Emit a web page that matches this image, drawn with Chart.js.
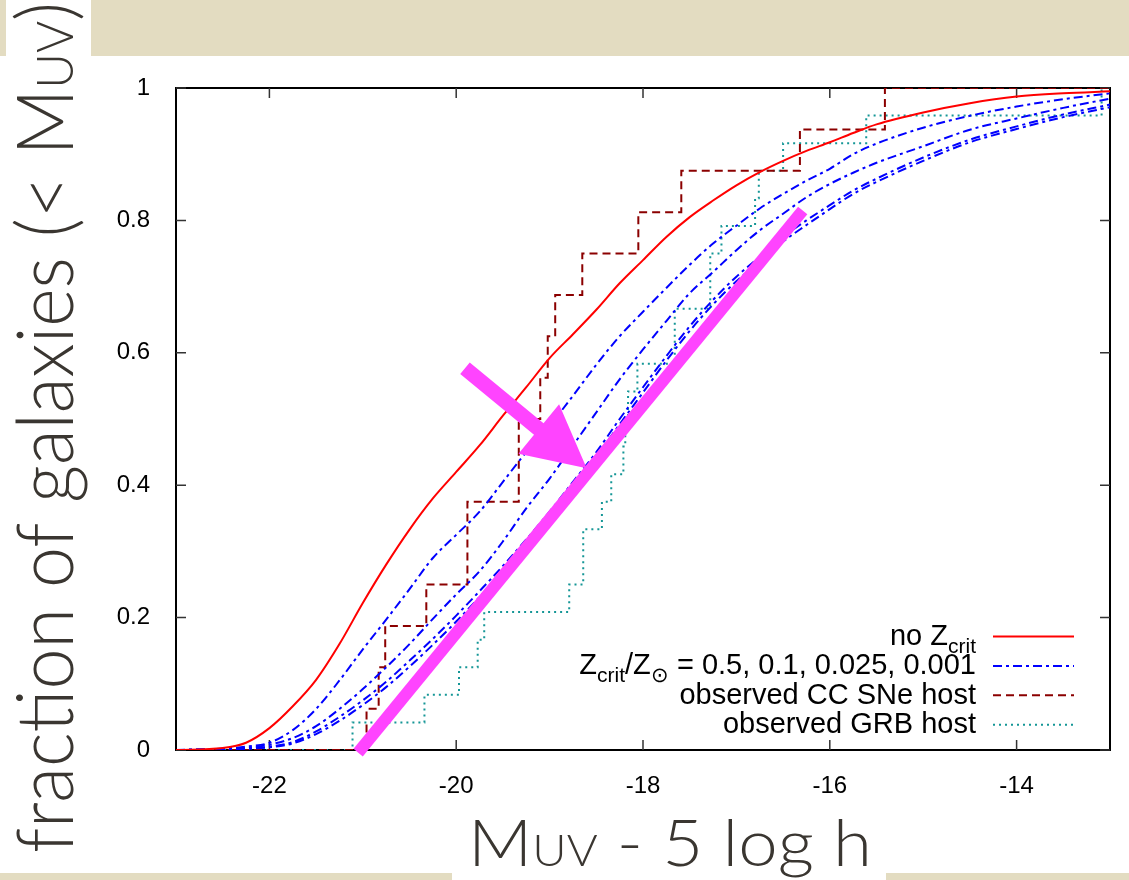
<!DOCTYPE html>
<html>
<head>
<meta charset="utf-8">
<script src="https://cdn.jsdelivr.net/npm/chart.js@4.4.0/dist/chart.umd.min.js"></script>
<style>
  html, body { margin: 0; padding: 0; background: #fff; }
  canvas { display: block; }
</style>
</head>
<body>
<canvas id="muv_cdf_chart" width="1129" height="880"></canvas>
<script>
// ---- data ----------------------------------------------------------------
// magnitude grid of the model curves (M_UV - 5 log h)
var mag = [-23, -22.5, -22.25, -22, -21.75, -21.5, -21.25, -21, -20.75, -20.5, -20.25, -20,
  -19.75, -19.5, -19.25, -19, -18.75, -18.5, -18.25, -18, -17.75, -17.5, -17.25, -17,
  -16.75, -16.5, -16.25, -16, -15.75, -15.5, -15, -14.5, -14, -13.5, -13];

// no Z_crit
var noZcrit = [0, 0.003, 0.011, 0.033, 0.066, 0.106, 0.16, 0.222, 0.28, 0.333, 0.38, 0.42,
  0.46, 0.505, 0.548, 0.592, 0.628, 0.665, 0.705, 0.74, 0.775, 0.805, 0.83, 0.853,
  0.873, 0.89, 0.905, 0.918, 0.932, 0.945, 0.963, 0.977, 0.987, 0.992, 0.995];

// Z_crit / Z_sun = 0.5, 0.1, 0.025, 0.001
var zcrit050 = [0, 0.002, 0.005, 0.011, 0.03, 0.062, 0.105, 0.152, 0.197, 0.243, 0.29, 0.325,
  0.36, 0.405, 0.45, 0.49, 0.535, 0.582, 0.625, 0.662, 0.698, 0.733, 0.765, 0.792,
  0.818, 0.84, 0.86, 0.878, 0.9, 0.916, 0.94, 0.958, 0.972, 0.983, 0.992];
var zcrit010 = [0, 0.001, 0.003, 0.008, 0.018, 0.036, 0.062, 0.092, 0.125, 0.16, 0.198, 0.235,
  0.27, 0.315, 0.365, 0.41, 0.46, 0.51, 0.56, 0.605, 0.648, 0.69, 0.722, 0.755,
  0.785, 0.81, 0.835, 0.855, 0.872, 0.887, 0.912, 0.937, 0.954, 0.97, 0.984];
var zcrit0025 = [0, 0.001, 0.002, 0.005, 0.012, 0.028, 0.05, 0.075, 0.103, 0.135, 0.168, 0.203,
  0.24, 0.278, 0.318, 0.36, 0.405, 0.45, 0.5, 0.548, 0.595, 0.64, 0.68, 0.715,
  0.745, 0.775, 0.8, 0.823, 0.845, 0.863, 0.895, 0.922, 0.942, 0.96, 0.975];
var zcrit0001 = [0, 0.001, 0.002, 0.004, 0.01, 0.024, 0.044, 0.068, 0.095, 0.126, 0.159, 0.194,
  0.231, 0.27, 0.31, 0.352, 0.397, 0.443, 0.492, 0.54, 0.588, 0.633, 0.673, 0.708,
  0.738, 0.768, 0.793, 0.817, 0.84, 0.858, 0.89, 0.918, 0.938, 0.956, 0.971];

// observed CC SNe hosts (cumulative steps)
var ccMag = [-23, -20.96, -20.83, -20.76, -20.32, -19.88, -19.33, -19.10, -19.02, -18.94,
  -18.65, -18.05, -17.59, -16.32, -15.41, -13];
var ccFrac = [0, 0.0625, 0.125, 0.1875, 0.25, 0.375, 0.5, 0.5625, 0.625, 0.6875,
  0.75, 0.8125, 0.875, 0.9375, 1, 1];

// observed GRB hosts (cumulative steps)
var grbMag = [-23, -21.11, -20.34, -19.97, -19.77, -19.70, -18.79, -18.64, -18.44, -18.34,
  -18.21, -18.19, -18.16, -18.06, -17.66, -17.28, -17.16, -16.80, -16.76, -16.50,
  -15.61, -13.09, -13];
var grbFrac = [0, 0.0417, 0.0833, 0.125, 0.1667, 0.2083, 0.25, 0.3333, 0.375, 0.4167,
  0.4583, 0.5, 0.5417, 0.5833, 0.6667, 0.75, 0.7917, 0.8333, 0.875, 0.9167,
  0.9583, 1, 1];

// hand-drawn magenta annotation (data coordinates)
var markLineX = [-21.05, -16.29];
var markLineY = [-0.004, 0.815];
var arrowX = [-19.906, -18.603];   // tail, tip
var arrowY = [0.5766, 0.4255];

// ticks
var xTickValues = [-22, -20, -18, -16, -14];
var xTickLabels = ['-22', '-20', '-18', '-16', '-14'];
var yTickValues = [0, 0.2, 0.4, 0.6, 0.8, 1];
var yTickLabels = ['0', '0.2', '0.4', '0.6', '0.8', '1'];

// legend rows: [text, subscript?]
var legendRows = [
  [['no Z', 0], ['crit', 1]],
  [['Z', 0], ['crit', 1], ['/Z', 0], ['\u2299', 1], [' = 0.5, 0.1, 0.025, 0.001', 0]],
  [['observed CC SNe host', 0]],
  [['observed GRB host', 0]]
];
//---------------------------------------------------------------------------

var RED = '#ff0000', BLUE = '#0000ff', DARKRED = '#8b0000', TEAL = '#149696';
var MAGENTA = 'rgb(255, 68, 255)';
var BEIGE = '#e3dcc1';
var LABEL_FONT = '"Liberation Sans", Arial, Helvetica, sans-serif';
var TITLE_FONT = 'Lato, "Open Sans", "Liberation Sans", sans-serif';
var TITLE_COLOR = '#3a3631';

function pts(xs, ys) {
  var out = [];
  for (var i = 0; i < xs.length; i++) out.push({x: xs[i], y: ys[i]});
  return out;
}

function curve(label, ys, color, dash) {
  return {
    label: label,
    data: pts(mag, ys),
    borderColor: color,
    borderWidth: 2,
    borderDash: dash,
    pointRadius: 0,
    fill: false,
    cubicInterpolationMode: 'monotone'
  };
}

var dashDot = [9, 4, 3, 4];

// draws text pieces (normal / subscript) ending at xRight
function richText(ctx, parts, xRight, baseline, size, subSize, subDrop) {
  var widths = [], total = 0;
  parts.forEach(function(p) {
    ctx.font = (p[1] ? subSize : size) + 'px ' + LABEL_FONT;
    var w = ctx.measureText(p[0]).width;
    widths.push(w); total += w;
  });
  var x = xRight - total;
  parts.forEach(function(p, i) {
    ctx.font = (p[1] ? subSize : size) + 'px ' + LABEL_FONT;
    ctx.fillText(p[0], x, baseline + (p[1] ? subDrop : 0));
    x += widths[i];
  });
}

// title text squeezed to a given length; parts = [text, small?]
function squeezedTitle(ctx, parts, size, smallSize, length) {
  var total = 0, widths = [];
  parts.forEach(function(p) {
    ctx.font = '300 ' + (p[1] ? smallSize : size) + 'px ' + TITLE_FONT;
    var w = ctx.measureText(p[0]).width;
    widths.push(w); total += w;
  });
  ctx.scale(length / total, 1);
  var x = 0;
  parts.forEach(function(p, i) {
    ctx.font = '300 ' + (p[1] ? smallSize : size) + 'px ' + TITLE_FONT;
    ctx.fillText(p[0], x, 0);
    x += widths[i];
  });
}

var figurePlugin = {
  id: 'figure',
  beforeDraw: function(chart) {
    var ctx = chart.ctx;
    ctx.save();
    ctx.fillStyle = '#ffffff';
    ctx.fillRect(0, 0, chart.width, chart.height);
    // slide background peeking round the pasted plot
    ctx.fillStyle = BEIGE;
    ctx.fillRect(91, 0, chart.width - 91, 56);
    ctx.fillRect(0, 0, 6, 56);
    ctx.fillRect(0, 873, 452, 7);
    ctx.fillRect(886, 873, chart.width - 886, 7);
    ctx.restore();
  },
  beforeDatasetsDraw: function(chart) {
    var ctx = chart.ctx, a = chart.chartArea;
    var xs = chart.scales.x, ys = chart.scales.y;
    ctx.save();
    ctx.strokeStyle = '#000';
    ctx.lineWidth = 2;
    ctx.strokeRect(a.left, a.top, a.right - a.left, a.bottom - a.top);
    // inward ticks on all four sides
    ctx.strokeStyle = '#333';
    ctx.lineWidth = 1.5;
    ctx.beginPath();
    xTickValues.forEach(function(v) {
      var px = xs.getPixelForValue(v);
      ctx.moveTo(px, a.bottom); ctx.lineTo(px, a.bottom - 10);
      ctx.moveTo(px, a.top); ctx.lineTo(px, a.top + 10);
    });
    yTickValues.forEach(function(v) {
      var py = ys.getPixelForValue(v);
      ctx.moveTo(a.left, py); ctx.lineTo(a.left + 10, py);
      ctx.moveTo(a.right, py); ctx.lineTo(a.right - 10, py);
    });
    ctx.stroke();
    ctx.restore();
  },
  afterDatasetsDraw: function(chart) {
    var ctx = chart.ctx;
    var xs = chart.scales.x, ys = chart.scales.y;
    // magenta arrow
    var x0 = xs.getPixelForValue(arrowX[0]), y0 = ys.getPixelForValue(arrowY[0]);
    var x1 = xs.getPixelForValue(arrowX[1]), y1 = ys.getPixelForValue(arrowY[1]);
    var len = Math.hypot(x1 - x0, y1 - y0);
    var ux = (x1 - x0) / len, uy = (y1 - y0) / len;
    var nx = -uy, ny = ux;
    var head = 62, hw = 32, sw = 7.5;
    var bx = x1 - ux * head, by = y1 - uy * head;
    ctx.save();
    ctx.fillStyle = MAGENTA;
    ctx.beginPath();
    ctx.moveTo(x0 + nx * sw, y0 + ny * sw);
    ctx.lineTo(bx + nx * sw, by + ny * sw);
    ctx.lineTo(bx + nx * hw, by + ny * hw);
    ctx.lineTo(x1, y1);
    ctx.lineTo(bx - nx * hw, by - ny * hw);
    ctx.lineTo(bx - nx * sw, by - ny * sw);
    ctx.lineTo(x0 - nx * sw, y0 - ny * sw);
    ctx.closePath();
    ctx.fill();
    ctx.restore();
  },
  afterDraw: function(chart) {
    var ctx = chart.ctx;
    ctx.save();
    // legend
    var styles = [
      {color: RED, dash: []},
      {color: BLUE, dash: dashDot},
      {color: DARKRED, dash: [8, 5]},
      {color: TEAL, dash: [2, 4]}
    ];
    ctx.fillStyle = '#000';
    ctx.textBaseline = 'alphabetic';
    legendRows.forEach(function(row, i) {
      var ly = 636.5 + i * 29.4;
      richText(ctx, row, 976, ly + 8.5, 29, 21, 8);
      ctx.beginPath();
      ctx.setLineDash(styles[i].dash);
      ctx.strokeStyle = styles[i].color;
      ctx.lineWidth = 2;
      ctx.moveTo(993, ly); ctx.lineTo(1074, ly);
      ctx.stroke();
    });
    ctx.setLineDash([]);
    // axis titles
    ctx.fillStyle = TITLE_COLOR;
    ctx.save();
    ctx.translate(468, 866);
    squeezedTitle(ctx, [['M', 0], ['UV', 1], [' - 5 log h', 0]], 66, 44, 404);
    ctx.restore();
    ctx.save();
    ctx.translate(73, 853);
    ctx.rotate(-Math.PI / 2);
    squeezedTitle(ctx, [['fraction of galaxies (< M', 0], ['UV', 1], [')', 0]], 78, 52, 851);
    ctx.restore();
    ctx.restore();
  }
};

var context = document.getElementById('muv_cdf_chart').getContext('2d');
var muv_cdf_chart = new Chart(context, {
  type: 'line',
  data: {
    datasets: [
      {
        label: 'annotation',
        data: pts(markLineX, markLineY),
        borderColor: MAGENTA,
        borderWidth: 12,
        borderCapStyle: 'butt',
        pointRadius: 0,
        fill: false,
        clip: false,
        order: -1
      },
      curve('no Zcrit', noZcrit, RED, []),
      curve('Zcrit/Zsun = 0.5', zcrit050, BLUE, dashDot),
      curve('Zcrit/Zsun = 0.1', zcrit010, BLUE, dashDot),
      curve('Zcrit/Zsun = 0.025', zcrit0025, BLUE, dashDot),
      curve('Zcrit/Zsun = 0.001', zcrit0001, BLUE, dashDot),
      {
        label: 'observed CC SNe host',
        data: pts(ccMag, ccFrac),
        stepped: 'before',
        borderColor: DARKRED,
        borderWidth: 2,
        borderDash: [8, 5],
        pointRadius: 0,
        fill: false
      },
      {
        label: 'observed GRB host',
        data: pts(grbMag, grbFrac),
        stepped: 'before',
        borderColor: TEAL,
        borderWidth: 2,
        borderDash: [2, 4],
        pointRadius: 0,
        fill: false
      }
    ]
  },
  options: {
    responsive: false,
    devicePixelRatio: 1,
    animation: false,
    layout: { padding: { top: 88, right: 19, bottom: 0, left: 0 } },
    plugins: {
      legend: { display: false },
      tooltip: { enabled: false }
    },
    scales: {
      x: {
        type: 'linear',
        min: -23,
        max: -13,
        afterBuildTicks: function(s) { s.ticks = xTickValues.map(function(v) { return {value: v}; }); },
        afterFit: function(s) { s.height = 130; },
        grid: { display: false },
        border: { display: false },
        ticks: {
          color: '#000',
          padding: 14,
          maxRotation: 0,
          autoSkip: false,
          font: { family: LABEL_FONT, size: 24 },
          callback: function(v) { return xTickLabels[xTickValues.indexOf(v)]; }
        }
      },
      y: {
        type: 'linear',
        min: 0,
        max: 1,
        afterBuildTicks: function(s) { s.ticks = yTickValues.map(function(v) { return {value: v}; }); },
        afterFit: function(s) { s.width = 176; },
        grid: { display: false },
        border: { display: false },
        ticks: {
          color: '#000',
          padding: 18,
          autoSkip: false,
          font: { family: LABEL_FONT, size: 24 },
          callback: function(v) { return yTickLabels[yTickValues.indexOf(v)]; }
        }
      }
    }
  },
  plugins: [figurePlugin]
});
</script>
</body>
</html>
